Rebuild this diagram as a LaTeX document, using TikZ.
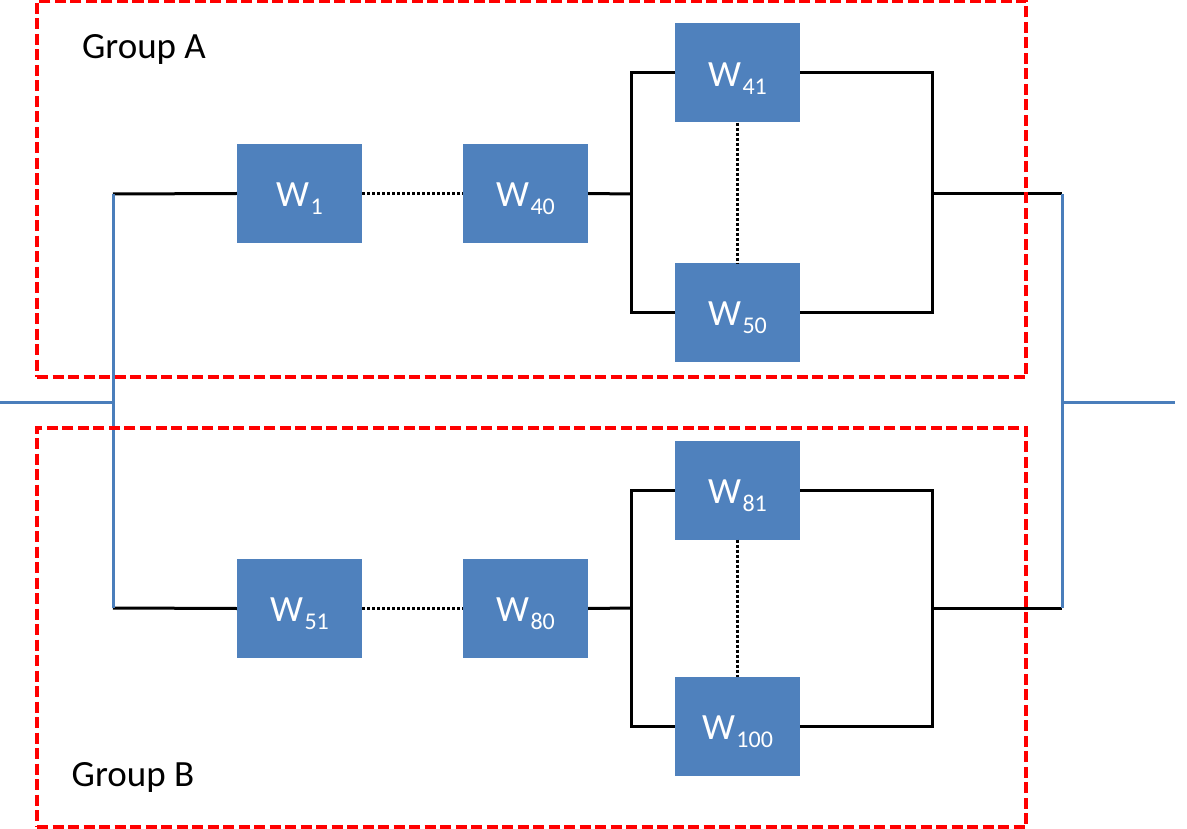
\documentclass[tikz,border=0pt]{standalone}
\usepackage{fontspec}
\setmainfont{Carlito}
\definecolor{wblue}{HTML}{4F81BD}
\definecolor{lblue}{HTML}{4A7EBB}
\definecolor{gred}{HTML}{FF0000}
\newcommand{\wlab}[1]{W\kern1.5pt\raisebox{-8pt}{\fontsize{24}{28}\selectfont #1}}
\tikzset{
  wbox/.style={fill=wblue, draw=none, minimum width=125pt, minimum height=99pt, inner sep=0pt, text=white, font=\fontsize{37}{42}\selectfont, text height=30pt, text depth=3.2pt},
  bline/.style={line width=3pt, black},
  dline/.style={line width=3pt, black, dash pattern=on 3pt off 2pt},
  blueline/.style={line width=3pt, lblue},
  grp/.style={draw=gred, line width=4pt, dash pattern=on 11pt off 4.5pt, minimum width=989pt, inner sep=0pt},
  grplabel/.style={font=\fontsize{37}{42}\selectfont, inner sep=0pt}
}
\begin{document}
\begin{tikzpicture}[x=1pt,y=-1pt]
\useasboundingbox (0,0) rectangle (1187,829);
% boxes
\node[wbox] (w1)   at (299.5,193.5) {\wlab{1}};
\node[wbox] (w40)  at (525.5,193.5) {\wlab{40}};
\node[wbox] (w41)  at (737.5,73)    {\wlab{41}};
\node[wbox] (w50)  at (737.5,312.5) {\wlab{50}};
\node[wbox] (w51)  at (299.5,608.5) {\wlab{51}};
\node[wbox] (w80)  at (525.5,608.5) {\wlab{80}};
\node[wbox] (w81)  at (737.5,490)   {\wlab{81}};
\node[wbox] (w100) at (737.5,726.5) {\wlab{100}};
% junction coordinates
\coordinate (inL) at (0,402);
\coordinate (jLA) at (113,194);
\coordinate (jLB) at (113,608);
\coordinate (jRA) at (1062,194);
\coordinate (jRB) at (1062,608);
\coordinate (outR) at (1175,402);
\coordinate (sA) at (631,194);
\coordinate (mA) at (932,194);
\coordinate (sB) at (631,608);
\coordinate (mB) at (932,608);
% group A chain
\draw[bline] (jLA) -- (w1.west);
\draw[dline] (w1.east) -- (w40.west);
\draw[bline] (w40.east) -- (sA);
\draw[bline] (w41.west) -| (sA) |- (w50.west);
\draw[bline] (w41.east) -| (mA) |- (w50.east);
\draw[bline] (mA) -- (jRA);
\draw[dline] (w41.south) -- (w50.north);
% group B chain
\draw[bline] (jLB) -- (w51.west);
\draw[dline] (w51.east) -- (w80.west);
\draw[bline] (w80.east) -- (sB);
\draw[bline] (w81.west) -| (sB) |- (w100.west);
\draw[bline] (w81.east) -| (mB) |- (w100.east);
\draw[bline] (mB) -- (jRB);
\draw[dline] (w81.south) -- (w100.north);
% blue bus lines
\draw[blueline] (jLA) -- (jLB);
\draw[blueline] (inL) -- (inL -| jLA);
\draw[blueline] (jRA) -- (jRB);
\draw[blueline] (outR -| jRA) -- (outR);
% groups
\node[grp, minimum height=376pt] (ga) at (531.5,189) {};
\node[grp, minimum height=399pt] (gb) at (531.5,627.5) {};
\node[grplabel] (la) at (144,49) {Group A};
\node[grplabel] (lb) at (133,777) {Group B};
\end{tikzpicture}
\end{document}
